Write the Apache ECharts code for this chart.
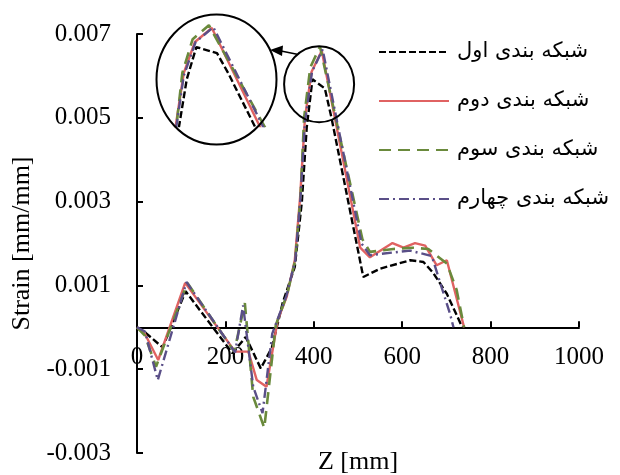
<!DOCTYPE html>
<html>
<head>
<meta charset="utf-8">
<script src="https://cdn.jsdelivr.net/npm/echarts@6/dist/echarts.min.js"></script>
<style>
  html, body { margin: 0; padding: 0; background: #fff; }
  #chart { width: 620px; height: 475px; }
</style>
</head>
<body>
<div id="chart"></div>
<script>
// Mesh-refinement study: strain along Z for four meshes
const seriesNames = ['شبکه بندی اول', 'شبکه بندی دوم', 'شبکه بندی سوم', 'شبکه بندی چهارم'];

const zMesh1 = [0, 18, 58, 110, 216, 246, 280, 305, 330, 357, 373, 384, 397, 425, 440, 512, 550, 618, 648, 670, 701, 736];
const sMesh1 = [0, -0.00012, -0.00048, 0.00086, -0.00062, -0.00023, -0.00098, -0.00049, 0.00060, 0.00144, 0.0030, 0.00477, 0.00592, 0.0057, 0.0050, 0.0012, 0.0014, 0.0016, 0.00156, 0.0013, 0.0008, 0];

const zMesh2 = [0, 18, 48, 109, 222, 252, 271, 293, 318, 339, 357, 369, 380, 395, 418, 505, 527, 578, 603, 629, 652, 678, 701, 740];
const sMesh2 = [0, -0.00016, -0.00078, 0.00106, -0.00058, -0.00058, -0.00126, -0.00142, 0.00016, 0.00074, 0.0016, 0.0031, 0.0050, 0.0061, 0.0066, 0.0019, 0.00167, 0.00201, 0.0019, 0.00201, 0.00195, 0.00148, 0.0016, 0];

const zMesh3 = [0, 18, 43, 114, 220, 244, 263, 288, 314, 340, 358, 370, 378, 392, 414, 510, 527, 580, 625, 659, 701, 723, 740];
const sMesh3 = [0, -0.0002, -0.00094, 0.00106, -0.00058, 0.00058, -0.00166, -0.0024, 0.00005, 0.0008, 0.0016, 0.0031, 0.0050, 0.0062, 0.0067, 0.0021, 0.0018, 0.00187, 0.0019, 0.00187, 0.00152, 0.0009, 0];

const zMesh4 = [0, 18, 47, 112, 222, 240, 263, 284, 306, 338, 358, 370, 380, 396, 420, 508, 527, 550, 618, 667, 689, 708, 716];
const sMesh4 = [0, -0.0001, -0.00126, 0.00108, -0.0006, 0.00052, -0.00142, -0.00205, -0.00015, 0.00075, 0.0016, 0.0031, 0.0049, 0.0061, 0.00663, 0.0020, 0.00172, 0.00175, 0.00183, 0.0017, 0.00096, 0.00033, 0];

const xTicks = [0, 200, 400, 600, 800, 1000];
const yTicks = [-0.003, -0.001, 0.001, 0.003, 0.005, 0.007];

const zip = (zs, ss) => zs.map((z, i) => [z, ss[i]]);
const meshData = [zip(zMesh1, sMesh1), zip(zMesh2, sMesh2), zip(zMesh3, sMesh3), zip(zMesh4, sMesh4)];

const lineStyles = [
  { color: '#000000', width: 2.4, type: [7, 3] },
  { color: '#e06262', width: 2.4, type: 'solid' },
  { color: '#6a8a3c', width: 2.6, type: [12, 7] },
  { color: '#5a4f88', width: 2.4, type: [10, 4, 2, 4] }
];

const serif = 'Liberation Serif';
const gridMain = { left: 137, right: 41, top: 34, bottom: 22 };
const plotHeight = 475 - gridMain.top - gridMain.bottom;
const yMin = yTicks[0], yMax = yTicks[yTicks.length - 1];
// the Z axis is drawn through strain = 0
const zeroOffset = -plotHeight * (0 - yMin) / (yMax - yMin);

const chart = echarts.init(document.getElementById('chart'), null, { renderer: 'canvas' });

const makeSeries = (axisIndex) => meshData.map((d, i) => ({
  name: seriesNames[i],
  type: 'line',
  data: d,
  symbol: 'none',
  lineStyle: lineStyles[i],
  itemStyle: { color: lineStyles[i].color },
  xAxisIndex: axisIndex,
  yAxisIndex: axisIndex,
  clip: true,
  z: 3
}));

chart.setOption({
  animation: false,
  backgroundColor: '#ffffff',
  grid: [
    Object.assign({ outerBoundsMode: 'none', containLabel: false }, gridMain),
    { left: 158, width: 118, top: 14, height: 112, outerBoundsMode: 'none', containLabel: false }
  ],
  legend: {
    orient: 'vertical',
    left: 373,
    top: 35,
    itemWidth: 70,
    itemHeight: 12,
    itemGap: 25,
    data: seriesNames,
    itemStyle: { opacity: 0 },
    textStyle: { fontFamily: 'DejaVu Sans', fontSize: 21, color: '#000', lineHeight: 24, padding: [0, 0, 0, 3] }
  },
  xAxis: [
    {
      type: 'value',
      min: xTicks[0],
      max: xTicks[xTicks.length - 1],
      interval: xTicks[1] - xTicks[0],
      offset: zeroOffset,
      name: 'Z [mm]',
      nameLocation: 'middle',
      nameGap: 122,
      nameTextStyle: { fontFamily: serif, fontSize: 26, color: '#000' },
      axisLine: { onZero: false, lineStyle: { color: '#000', width: 2 } },
      axisTick: { inside: true, length: 6, lineStyle: { color: '#000', width: 2 } },
      axisLabel: { margin: 18, fontFamily: serif, fontSize: 25, color: '#000', formatter: v => String(v) },
      splitLine: { show: false }
    },
    { type: 'value', gridIndex: 1, min: 345, max: 505, show: false }
  ],
  yAxis: [
    {
      type: 'value',
      min: yMin,
      max: yMax,
      interval: yTicks[1] - yTicks[0],
      name: 'Strain [mm/mm]',
      nameLocation: 'middle',
      nameGap: 102,
      nameTextStyle: { fontFamily: serif, fontSize: 26, color: '#000' },
      axisLine: { show: true, onZero: false, lineStyle: { color: '#000', width: 2 } },
      axisTick: { show: true, inside: true, length: 6, lineStyle: { color: '#000', width: 2 } },
      axisLabel: { margin: 26, fontFamily: serif, fontSize: 25, color: '#000', formatter: v => v.toFixed(3) },
      splitLine: { show: false }
    },
    { type: 'value', gridIndex: 1, min: 0.0031, max: 0.0071, show: false }
  ],
  series: makeSeries(0).concat(makeSeries(1))
});

// Magnifier annotation: small circle on the peak, enlarged view and arrow
const peak = chart.convertToPixel({ xAxisIndex: 0, yAxisIndex: 0 }, [412, 0.0058]);
chart.setOption({
  graphic: [
    { type: 'ellipse', shape: { cx: peak[0], cy: peak[1], rx: 35, ry: 38 }, style: { fill: 'none', stroke: '#000', lineWidth: 2 }, z: 10 },
    { type: 'ellipse', shape: { cx: 216.5, cy: 79.5, rx: 60, ry: 65 }, style: { fill: 'none', stroke: '#000', lineWidth: 2 }, z: 10 },
    { type: 'line', shape: { x1: peak[0] - 22, y1: peak[1] - 30, x2: 281, y2: 51 }, style: { stroke: '#000', lineWidth: 1.5 }, z: 10 },
    { type: 'polygon', shape: { points: [[270, 50], [283, 45.5], [282, 56]] }, style: { fill: '#000' }, z: 10 }
  ]
});
</script>
</body>
</html>
